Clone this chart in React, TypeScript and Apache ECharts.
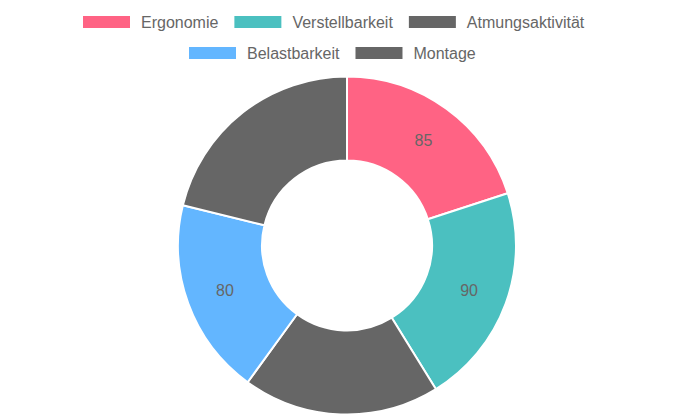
import * as echarts from 'echarts';
import { useEffect, useRef } from 'react';

const categories = ['Ergonomie', 'Verstellbarkeit', 'Atmungsaktivität', 'Belastbarkeit', 'Montage'];
const values = [85, 90, 80, 80, 90];
const colors = ['#FF6384', '#4BC0C0', '#666666', '#63B6FF', '#666666'];

const FONT = '"Liberation Sans", Arial, Helvetica, sans-serif';

const legendBase = {
  orient: 'horizontal' as const,
  padding: 0,
  itemWidth: 49,
  itemHeight: 14,
  itemGap: 14,
  icon: 'rect',
  textStyle: {
    color: '#666666',
    fontSize: 16,
    fontFamily: FONT,
    padding: [0, 0, 0, 5],
  },
};

const App = () => {
  const chartRef = useRef<HTMLDivElement>(null);

  useEffect(() => {
    if (!chartRef.current) return;
    const chart = echarts.init(chartRef.current, undefined, { renderer: 'svg' });
    chart.setOption({
      animation: false,
      backgroundColor: '#ffffff',
      legend: [
        { ...legendBase, left: 81, top: 14, data: categories.slice(0, 3) },
        { ...legendBase, left: 187, top: 45, data: categories.slice(3) },
      ],
      series: [
        {
          type: 'pie',
          center: [347, 245.5],
          radius: [85, 169],
          startAngle: 90,
          clockwise: true,
          avoidLabelOverlap: false,
          itemStyle: { borderColor: '#ffffff', borderWidth: 2 },
          label: {
            show: true,
            position: 'inside',
            color: '#666666',
            fontSize: 16,
            fontFamily: FONT,
            formatter: '{c}',
          },
          labelLine: { show: false },
          emphasis: { disabled: true },
          data: categories.map((name, i) => ({
            name,
            value: values[i],
            itemStyle: { color: colors[i] },
          })),
        },
      ],
    });
    return () => {
      chart.dispose();
    };
  }, []);

  return (
    <div
      ref={chartRef}
      style={{ position: 'fixed', left: 0, top: 0, width: 695, height: 417 }}
    ></div>
  );
};

export default App;
